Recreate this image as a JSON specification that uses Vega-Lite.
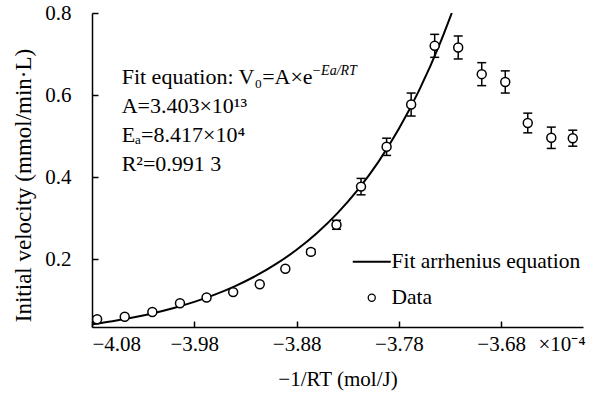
{
  "$schema": "https://vega.github.io/schema/vega-lite/v6.json",
  "width": 491,
  "height": 314,
  "autosize": {"type": "none"},
  "padding": {"left": 92, "top": 13, "right": 13, "bottom": 69},
  "background": "white",
  "config": {
    "view": {"stroke": null},
    "font": "Liberation Serif",
    "axis": {
      "domainColor": "black",
      "domainWidth": 1.5,
      "tickColor": "black",
      "tickWidth": 1.5,
      "grid": false,
      "labelColor": "black",
      "labelFont": "Liberation Serif",
      "labelFontSize": 21,
      "titleColor": "black",
      "titleFont": "Liberation Serif",
      "titleFontSize": 21,
      "titleFontWeight": "normal"
    }
  },
  "datasets": {
    "points": [
      {"x": -4.075, "y": 0.054},
      {"x": -4.048, "y": 0.060},
      {"x": -4.021, "y": 0.0715},
      {"x": -3.994, "y": 0.093},
      {"x": -3.968, "y": 0.107},
      {"x": -3.942, "y": 0.120},
      {"x": -3.916, "y": 0.139},
      {"x": -3.891, "y": 0.177},
      {"x": -3.866, "y": 0.218, "lo": 0.212, "hi": 0.224},
      {"x": -3.841, "y": 0.284, "lo": 0.273, "hi": 0.295},
      {"x": -3.817, "y": 0.377, "lo": 0.357, "hi": 0.397},
      {"x": -3.792, "y": 0.474, "lo": 0.453, "hi": 0.495},
      {"x": -3.768, "y": 0.577, "lo": 0.549, "hi": 0.605},
      {"x": -3.745, "y": 0.720, "lo": 0.692, "hi": 0.748},
      {"x": -3.722, "y": 0.716, "lo": 0.688, "hi": 0.744},
      {"x": -3.699, "y": 0.651, "lo": 0.623, "hi": 0.679},
      {"x": -3.676, "y": 0.632, "lo": 0.605, "hi": 0.659},
      {"x": -3.654, "y": 0.532, "lo": 0.508, "hi": 0.556},
      {"x": -3.631, "y": 0.496, "lo": 0.470, "hi": 0.522},
      {"x": -3.610, "y": 0.495, "lo": 0.4755, "hi": 0.5145}
    ],
    "fit": [
      {"x": -4.08, "y": 0.0415},
      {"x": -4.06, "y": 0.0490},
      {"x": -4.04, "y": 0.0580},
      {"x": -4.02, "y": 0.0687},
      {"x": -4.00, "y": 0.0813},
      {"x": -3.98, "y": 0.0961},
      {"x": -3.96, "y": 0.1138},
      {"x": -3.94, "y": 0.1347},
      {"x": -3.92, "y": 0.1593},
      {"x": -3.90, "y": 0.1886},
      {"x": -3.88, "y": 0.2231},
      {"x": -3.86, "y": 0.2640},
      {"x": -3.84, "y": 0.3125},
      {"x": -3.82, "y": 0.3697},
      {"x": -3.80, "y": 0.4374},
      {"x": -3.78, "y": 0.5178},
      {"x": -3.76, "y": 0.6126},
      {"x": -3.74, "y": 0.7247},
      {"x": -3.7283, "y": 0.8}
    ]
  },
  "encoding": {
    "x": {
      "type": "quantitative",
      "scale": {"domain": [-4.08, -3.6], "nice": false, "zero": false},
      "axis": {
        "title": "−1/RT (mol/J)",
        "values": [-4.08, -3.98, -3.88, -3.78, -3.68, -3.621],
        "labelExpr": "datum.value > -3.65 ? '×10⁻⁴' : replace(format(datum.value, '.2f'), '-', '−')",
        "tickSize": -6,
        "tickOpacity": {"condition": {"test": "datum.value > -3.65", "value": 0}, "value": 1},
        "labelPadding": 12,
        "titlePadding": 14
      }
    },
    "y": {
      "type": "quantitative",
      "scale": {"domain": [0.035, 0.8], "nice": false, "zero": false},
      "axis": {
        "title": "Initial velocity (mmol/min·L)",
        "values": [0.2, 0.4, 0.6, 0.8],
        "format": ".1f",
        "tickSize": -6,
        "labelPadding": 27,
        "titleFontSize": 23,
        "titleBaseline": "middle",
        "titleAnchor": "middle",
        "titleX": -69,
        "titleY": 172
      }
    },
    "color": {
      "type": "nominal",
      "scale": {"domain": ["Fit arrhenius equation", "Data"], "range": ["black", "black"]},
      "legend": {
        "orient": "none",
        "legendX": 269,
        "legendY": 238,
        "title": null,
        "labelFont": "Liberation Serif",
        "labelFontSize": 21.5,
        "labelColor": "black",
        "labelLimit": 400,
        "labelOffset": 9,
        "rowPadding": 13,
        "symbolSize": 1444,
        "encode": {
          "symbols": {
            "update": {
              "shape": {"signal": "datum.value === 'Data' ? 'circle' : 'stroke'"},
              "size": {"signal": "datum.value === 'Data' ? 50 : 1444"},
              "strokeWidth": {"signal": "datum.value === 'Data' ? 1.3 : 2"},
              "fill": {"value": "white"},
              "stroke": {"value": "black"},
              "opacity": {"value": 1}
            }
          }
        }
      }
    }
  },
  "layer": [
    {
      "data": {"name": "fit"},
      "mark": {"type": "line", "strokeWidth": 2, "interpolate": "monotone", "clip": true},
      "encoding": {
        "x": {"field": "x", "type": "quantitative"},
        "y": {"field": "y", "type": "quantitative"},
        "color": {"datum": "Fit arrhenius equation"}
      }
    },
    {
      "data": {"name": "points"},
      "transform": [{"filter": "isValid(datum.lo)"}],
      "mark": {"type": "rule", "color": "black", "strokeWidth": 1.5},
      "encoding": {
        "x": {"field": "x", "type": "quantitative"},
        "y": {"field": "lo", "type": "quantitative"},
        "y2": {"field": "hi"}
      }
    },
    {
      "data": {"name": "points"},
      "transform": [{"filter": "isValid(datum.lo)"}],
      "mark": {"type": "tick", "orient": "horizontal", "color": "black", "size": 9, "thickness": 1.5, "opacity": 1},
      "encoding": {
        "x": {"field": "x", "type": "quantitative"},
        "y": {"field": "hi", "type": "quantitative"}
      }
    },
    {
      "data": {"name": "points"},
      "transform": [{"filter": "isValid(datum.lo)"}],
      "mark": {"type": "tick", "orient": "horizontal", "color": "black", "size": 9, "thickness": 1.5, "opacity": 1},
      "encoding": {
        "x": {"field": "x", "type": "quantitative"},
        "y": {"field": "lo", "type": "quantitative"}
      }
    },
    {
      "data": {"name": "points"},
      "mark": {"type": "point", "shape": "circle", "filled": false, "fill": "white", "fillOpacity": 1, "opacity": 1, "size": 80, "strokeWidth": 1.5},
      "encoding": {
        "x": {"field": "x", "type": "quantitative"},
        "y": {"field": "y", "type": "quantitative"},
        "color": {"datum": "Data"}
      }
    },
    {
      "data": {"values": [{}]},
      "mark": {"type": "text", "align": "left", "baseline": "alphabetic", "fontSize": 22, "lineHeight": 29, "font": "Liberation Serif", "color": "black"},
      "encoding": {
        "x": {"datum": -4.051},
        "y": {"datum": 0.628},
        "text": {"value": ["Fit equation: V₀=A×e", "A=3.403×10¹³", "Eₐ=8.417×10⁴", "R²=0.991 3"]}
      }
    },
    {
      "data": {"values": [{}]},
      "mark": {"type": "text", "align": "left", "baseline": "alphabetic", "fontSize": 14, "fontStyle": "italic", "font": "Liberation Serif", "color": "black", "dx": 190, "dy": -9},
      "encoding": {
        "x": {"datum": -4.051},
        "y": {"datum": 0.628},
        "text": {"value": "−Ea/RT"}
      }
    }
  ]
}
